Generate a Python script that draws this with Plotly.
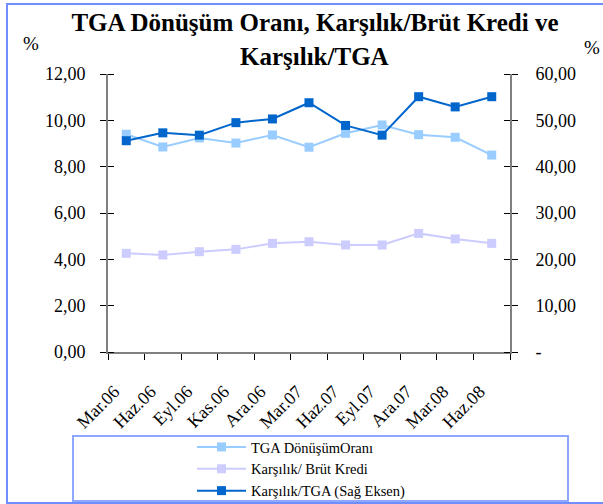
import plotly.graph_objects as go

# Quarterly periods
periods = ["Mar.06", "Haz.06", "Eyl.06", "Kas.06", "Ara.06", "Mar.07",
           "Haz.07", "Eyl.07", "Ara.07", "Mar.08", "Haz.08"]

# Left axis series (%)
tga_donusum = [9.40, 8.85, 9.24, 9.02, 9.37, 8.84, 9.44, 9.80, 9.38, 9.27, 8.50]
karsilik_brut = [4.26, 4.19, 4.33, 4.43, 4.69, 4.76, 4.62, 4.62, 5.12, 4.88, 4.69]

# Right axis series (%)
karsilik_tga = [45.6, 47.3, 46.8, 49.5, 50.3, 53.8, 48.9, 46.8, 55.1, 52.9, 55.1]

# Axis tick values / labels
left_ticks = [0, 2, 4, 6, 8, 10, 12]
left_labels = ["0,00", "2,00", "4,00", "6,00", "8,00", "10,00", "12,00"]
right_ticks = [0, 10, 20, 30, 40, 50, 60]
right_labels = ["-", "10,00", "20,00", "30,00", "40,00", "50,00", "60,00"]

W, H = 603, 504
ML, MR, MT, MB = 108, 93, 74, 152
PW, PH = W - ML - MR, H - MT - MB


def px_x(x):
    return (x - ML) / PW


def px_y(y):
    return (H - MB - y) / PH


SERIF = "Liberation Serif"
C_LIGHT = "#99CCFF"
C_LAV = "#CCCCFF"
C_DARK = "#0066CC"
BORDER = "#6F8EFF"

fig = go.Figure()
fig.add_trace(go.Scatter(
    x=periods, y=tga_donusum, name="TGA DönüşümOranı", mode="lines+markers",
    line=dict(color=C_LIGHT, width=2), marker=dict(symbol="square", size=9, color=C_LIGHT)))
fig.add_trace(go.Scatter(
    x=periods, y=karsilik_brut, name="Karşılık/ Brüt Kredi", mode="lines+markers",
    line=dict(color=C_LAV, width=2), marker=dict(symbol="square", size=9, color=C_LAV)))
fig.add_trace(go.Scatter(
    x=periods, y=karsilik_tga, name="Karşılık/TGA (Sağ Eksen)", mode="lines+markers",
    yaxis="y2",
    line=dict(color=C_DARK, width=2), marker=dict(symbol="square", size=9, color=C_DARK)))

axis_common = dict(showgrid=False, zeroline=False, linecolor="#808080", linewidth=2,
                   tickcolor="#000000", tickwidth=1, ticklen=6, ticks="outside")
tick_font = dict(family=SERIF, size=18, color="#000000")

n = len(periods)
fig.update_layout(
    width=W, height=H,
    margin=dict(l=ML, r=MR, t=MT, b=MB, pad=0, autoexpand=False),
    paper_bgcolor="white", plot_bgcolor="white",
    font=dict(family=SERIF, color="#000000"),
    title=dict(text="<b>TGA Dönüşüm Oranı, Karşılık/Brüt Kredi ve</b>",
               font=dict(family=SERIF, size=25, color="#000000"),
               xref="container", yref="container",
               x=315 / W, xanchor="center", y=1 - 22 / H, yanchor="middle"),
    xaxis=dict(type="category", range=[-0.5, n - 0.5], tickson="boundaries",
               tickangle=-45, ticklabelstandoff=20, ticklabelshift=-12,
               automargin=False,
               tickfont=dict(family=SERIF, size=18, color="#000000"), **axis_common),
    yaxis=dict(range=[0, 12], tickvals=left_ticks, ticktext=left_labels,
               ticklabelstandoff=11, tickfont=tick_font, automargin=False,
               minor=dict(tickvals=left_ticks, ticks="inside", ticklen=6,
                          tickcolor="#000000", tickwidth=1, showgrid=False),
               **axis_common),
    yaxis2=dict(range=[0, 60], tickvals=right_ticks, ticktext=right_labels,
                overlaying="y", side="right", anchor="x", automargin=False,
                ticklabelstandoff=14, tickfont=tick_font,
                minor=dict(tickvals=right_ticks, ticks="inside", ticklen=6,
                           tickcolor="#000000", tickwidth=1, showgrid=False),
                **axis_common),
    showlegend=True,
    legend=dict(xref="paper", yref="paper", x=px_x(192), xanchor="left",
                y=px_y(431), yanchor="top", bgcolor="rgba(0,0,0,0)",
                borderwidth=0, font=dict(family=SERIF, size=14.5, color="#000000"),
                itemwidth=49, tracegroupgap=0),
)

fig.add_annotation(text="<b>Karşılık/TGA</b>", xref="paper", yref="paper",
                   x=px_x(314), y=px_y(57), xanchor="center", yanchor="middle",
                   showarrow=False, font=dict(family=SERIF, size=25, color="#000000"))
fig.add_annotation(text="%", xref="paper", yref="paper", x=px_x(31), y=px_y(43),
                   xanchor="center", yanchor="middle",
                   showarrow=False, font=dict(family=SERIF, size=19, color="#000000"))
fig.add_annotation(text="%", xref="paper", yref="paper", x=px_x(592), y=px_y(48),
                   xanchor="center", yanchor="middle",
                   showarrow=False, font=dict(family=SERIF, size=19, color="#000000"))

# Outer chart frame and legend frame
fig.add_shape(type="rect", xref="paper", yref="paper",
              x0=px_x(7), x1=px_x(W + 5), y0=px_y(503), y1=px_y(4),
              line=dict(color=BORDER, width=2), layer="below")
fig.add_shape(type="rect", xref="paper", yref="paper",
              x0=px_x(73), x1=px_x(568), y0=px_y(501), y1=px_y(436),
              line=dict(color="#8FA8FF", width=2), layer="below")

fig.write_html("out.html")
